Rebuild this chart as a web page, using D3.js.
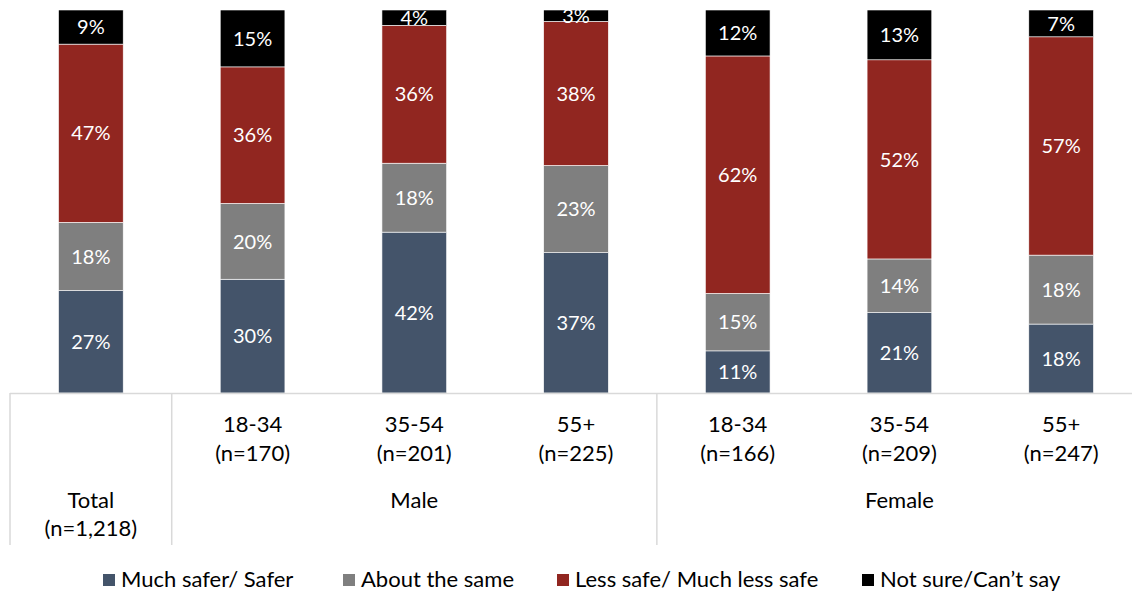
<!DOCTYPE html>
<html><head><meta charset="utf-8">
<script src="https://cdn.jsdelivr.net/npm/d3@7"></script>
<style>body{margin:0;background:#fff}svg{display:block}text{font-family:Lato,"Open Sans",sans-serif}</style>
</head><body><svg id="c" width="1132" height="594"></svg>
<script>
const categories = ["Total", "Male 18-34", "Male 35-54", "Male 55+", "Female 18-34", "Female 35-54", "Female 55+"];
const ageLabels = ["", "18-34", "35-54", "55+", "18-34", "35-54", "55+"];
const sampleLabels = ["", "(n=170)", "(n=201)", "(n=225)", "(n=166)", "(n=209)", "(n=247)"];
const seriesNames = ["Much safer/ Safer", "About the same", "Less safe/ Much less safe", "Not sure/Can\u2019t say"];
const safer = [27, 30, 42, 37, 11, 21, 18];
const same = [18, 20, 18, 23, 15, 14, 18];
const lessSafe = [47, 36, 36, 38, 62, 52, 57];
const notSure = [9, 15, 4, 3, 12, 13, 7];
const groups = [
  {name: "Total", sub: "(n=1,218)", from: 0, to: 0},
  {name: "Male", sub: "", from: 1, to: 3},
  {name: "Female", sub: "", from: 4, to: 6}
];
const colors = ["#44546A", "#7F7F7F", "#912620", "#000000"];

const svg = d3.select("#c");
const keys = ["s0","s1","s2","s3"];
const rows = categories.map((c, i) => ({cat: c, s0: safer[i], s1: same[i], s2: lessSafe[i], s3: notSure[i]}));
const stack = d3.stack().keys(keys).offset(d3.stackOffsetExpand);
const layers = stack(rows);

const x = d3.scaleBand().domain(categories).range([10, 1142]).paddingInner(0.6).paddingOuter(0.3);
const y = d3.scaleLinear().domain([0, 1]).range([393, 10]);

const g = svg.append("g");
layers.forEach((layer, li) => {
  const lg = g.append("g").attr("fill", colors[li]);
  lg.selectAll("rect").data(layer).join("rect")
    .attr("x", d => x(d.data.cat))
    .attr("width", x.bandwidth())
    .attr("y", d => y(d[1]))
    .attr("height", d => y(d[0]) - y(d[1]))
    .attr("stroke", "#ffffff").attr("stroke-width", 0.6);
  g.append("g").selectAll("text").data(layer).join("text")
    .attr("x", d => x(d.data.cat) + x.bandwidth() / 2)
    .attr("y", d => (y(d[0]) + y(d[1])) / 2)
    .attr("dy", "0.36em")
    .attr("text-anchor", "middle")
    .attr("fill", "#fff")
    .attr("font-size", 20)
    .text(d => d.data[keys[li]] + "%");
});

// axis line & separators
const axisColor = "#D9D9D9";
svg.append("line").attr("x1", 10).attr("x2", 1132).attr("y1", 393.5).attr("y2", 393.5)
  .attr("stroke", axisColor).attr("stroke-width", 1.5);
const sepX = [x.range()[0], (x(categories[0]) + x.bandwidth() + x(categories[1])) / 2, (x(categories[3]) + x.bandwidth() + x(categories[4])) / 2];
sepX.forEach(sx => {
  svg.append("line").attr("x1", sx).attr("x2", sx).attr("y1", 393).attr("y2", 545)
    .attr("stroke", axisColor).attr("stroke-width", 1.5);
});

// category labels
const lab = svg.append("g").attr("font-size", 22).attr("fill", "#000").attr("text-anchor", "middle");
categories.forEach((c, i) => {
  if (!ageLabels[i]) return;
  const cx = x(c) + x.bandwidth() / 2;
  lab.append("text").attr("x", cx).attr("y", 432).text(ageLabels[i]);
  lab.append("text").attr("x", cx).attr("y", 461).text(sampleLabels[i]);
});
groups.forEach(gr => {
  const cx = (x(categories[gr.from]) + x(categories[gr.to]) + x.bandwidth()) / 2;
  lab.append("text").attr("x", cx).attr("y", 508).text(gr.name);
  if (gr.sub) lab.append("text").attr("x", cx).attr("y", 536).text(gr.sub);
});

// legend
const legX = [103, 343, 557, 862];
const leg = svg.append("g");
seriesNames.forEach((n, i) => {
  leg.append("rect").attr("x", legX[i]).attr("y", 574).attr("width", 12).attr("height", 12).attr("fill", colors[i]);
  leg.append("text").attr("x", legX[i] + 18).attr("y", 587).attr("font-size", 22).attr("fill", "#000").text(n);
});
</script></body></html>
